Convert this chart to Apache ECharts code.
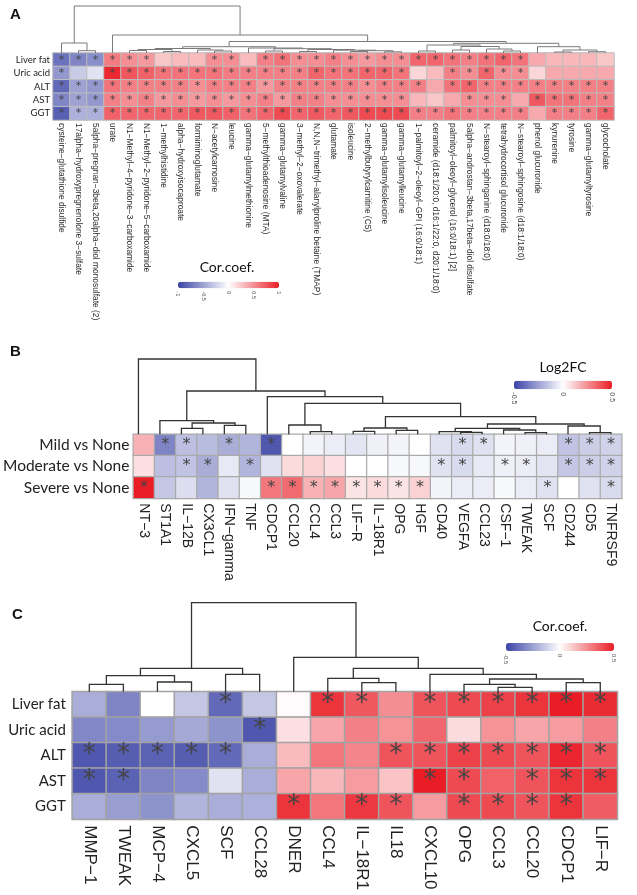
<!DOCTYPE html>
<html><head><meta charset="utf-8">
<script src="https://cdn.jsdelivr.net/npm/echarts/dist/echarts.min.js"></script>
<style>html,body{margin:0;padding:0;background:#fff}#c{width:637px;height:895px}</style>
</head><body><div id="c"></div>
<script>
// ---------- Panel A ----------
const rowsA = ['Liver fat','Uric acid','ALT','AST','GGT'];
const colsA = ['cysteine−glutathione disulfide','17alpha−hydroxypregnenolone 3−sulfate','5alpha−pregnan−3beta,20alpha−diol monosulfate (2)','urate','N1−Methyl−4−pyridone−3−carboxamide','N1−Methyl−2−pyridone−5−carboxamide','1−methylhistidine','alpha−hydroxyisocaproate','formiminoglutamate','N−acetylcarnosine','leucine','gamma−glutamylmethionine','5−methylthioadenosine (MTA)','gamma−glutamylvaline','3−methyl−2−oxovalerate','N,N,N−trimethyl−alanylproline betaine (TMAP)','glutamate','isoleucine','2−methylbutyrylcarnitine (C5)','gamma−glutamylisoleucine','gamma−glutamylleucine','1−palmitoyl−2−oleoyl−GPI (16:0/18:1)','ceramide (d18:1/20:0, d16:1/22:0, d20:1/18:0)','palmitoyl−oleoyl−glycerol (16:0/18:1) [2]','5alpha−androstan−3beta,17beta−diol disulfate','N−stearoyl−sphinganine (d18:0/18:0)','tetrahydrocortisol glucuronide','N−stearoyl−sphingosine (d18:1/18:0)','phenol glucuronide','kynurenine','tyrosine','gamma−glutamyltyrosine','glycocholate'];
const aLiverFat = [-0.75,-0.65,-0.6,0.58,0.5,0.45,0.25,0.3,0.3,0.5,0.5,0.3,0.56,0.62,0.5,0.5,0.56,0.5,0.45,0.5,0.5,0.68,0.68,0.62,0.56,0.62,0.68,0.62,0.38,0.32,0.32,0.32,0.25];
const aUricAcid = [-0.55,-0.28,-0.15,0.95,0.75,0.7,0.62,0.62,0.62,0.62,0.58,0.56,0.56,0.56,0.56,0.68,0.62,0.62,0.68,0.68,0.62,0.18,0.3,0.56,0.5,0.68,0.5,0.5,0.18,0.38,0.38,0.38,0.38];
const aALT = [-0.8,-0.5,-0.55,0.62,0.56,0.56,0.56,0.56,0.5,0.56,0.56,0.56,0.45,0.56,0.56,0.56,0.56,0.56,0.5,0.56,0.56,0.56,0.38,0.62,0.68,0.56,0.56,0.56,0.56,0.56,0.56,0.56,0.56];
const aAST = [-0.65,-0.5,-0.55,0.56,0.5,0.56,0.45,0.5,0.45,0.5,0.45,0.5,0.56,0.45,0.56,0.56,0.5,0.5,0.5,0.5,0.5,0.32,0.25,0.38,0.5,0.5,0.5,0.38,0.74,0.62,0.62,0.56,0.56];
const aGGT = [-0.85,-0.42,-0.42,0.7,0.68,0.68,0.68,0.68,0.74,0.74,0.7,0.62,0.68,0.8,0.68,0.74,0.68,0.74,0.8,0.8,0.8,0.56,0.56,0.62,0.56,0.56,0.56,0.56,0.38,0.56,0.56,0.56,0.68];
const starsA = ['111111000110111111111111111100000','100111111111111111111001111100000','111111111111111111111101111111111','111111111111111111111000111011111','111111111111111111111111111101111'];
// dendrogram: [mergeHeight, left, right], leaves = column index
const treeA = [47,
  [10, 0, [2.3, 1, 2]],
  [18, 3,
    [11.5,
      [6.3,
        [4.5, [3.5, [2.5, 4, 5], [1.5, 6, 7]], [3, 8, [2, 9, 10]]],
        [5, 11, [4.3, [2, 12, 13], [3.5, [1.5, 14, 15], [2.8, 16, [2.3, [1.5, 17, 18], [1.2, 19, 20]]]]]]
      ],
      [9.7,
        [8, [2, 21, 22], [6.5, [3, 23, 24], [4, 25, [2, 26, 27]]]],
        [6.3, 28, [3, [1, 29, 30], [1.3, 31, 32]]]
      ]
    ]
  ]
];
const ticksA = [-1, 1];

// ---------- Panel B ----------
const rowsB = ['Mild vs None','Moderate vs None','Severe vs None'];
const colsB = ['NT−3','ST1A1','IL−12B','CX3CL1','IFN−gamma','TNF','CDCP1','CCL20','CCL4','CCL3','LIF−R','IL−18R1','OPG','HGF','CD40','VEGFA','CCL23','CSF−1','TWEAK','SCF','CD244','CD5','TNFRSF9'];
const bMild = [0.17,-0.33,-0.17,-0.18,-0.22,-0.2,-0.45,0.0,-0.03,-0.05,-0.07,-0.04,-0.03,0.0,-0.08,-0.1,-0.08,-0.03,-0.04,-0.05,-0.16,-0.13,-0.12];
const bModerate = [0.07,-0.17,-0.16,-0.22,-0.06,-0.2,-0.08,0.08,0.1,0.07,0.0,0.0,-0.02,-0.02,-0.08,-0.1,-0.06,-0.04,-0.05,-0.07,-0.15,-0.13,-0.12];
const bSevere = [0.5,-0.15,-0.09,-0.2,-0.08,-0.02,0.3,0.33,0.17,0.2,0.06,0.08,0.06,0.1,-0.03,-0.05,-0.05,-0.02,-0.05,-0.08,0.0,-0.08,-0.1];
const starsB = ['01101010000000011000111','00110100000000110110111','10000011111111000001001'];
const treeB = [75.3, 0,
  [43.3,
    [13.6, 1, [11.3, [6, 2, 3], [9, 4, 5]]],
    [37.6, 6,
      [31,
        [9.3, 7, [2.6, 8, 9]],
        [17.6,
          [6.3, [3, 10, 11], [4, 12, 13]],
          [10.3,
            [6, [2.6, 14, [2, 15, 16]], [4.3, 17, [1.6, 18, 19]]],
            [8.3, 20, [1.6, 21, 22]]
          ]
        ]
      ]
    ]
  ]
];
const ticksB = [-0.5, 0.5];

// ---------- Panel C ----------
const rowsC = ['Liver fat','Uric acid','ALT','AST','GGT'];
const colsC = ['MMP−1','TWEAK','MCP−4','CXCL5','SCF','CCL28','DNER','CCL4','IL−18R1','IL18','CXCL10','OPG','CCL3','CCL20','CDCP1','LIF−R'];
const cLiverFat = [-0.22,-0.33,0.0,-0.15,-0.4,-0.15,0.01,0.45,0.37,0.25,0.38,0.4,0.42,0.45,0.5,0.47];
const cUricAcid = [-0.32,-0.31,-0.27,-0.23,-0.29,-0.45,0.07,0.2,0.28,0.24,0.34,0.08,0.24,0.2,0.22,0.28];
const cALT = [-0.45,-0.43,-0.42,-0.43,-0.4,-0.22,0.15,0.3,0.27,0.38,0.38,0.42,0.4,0.38,0.48,0.38];
const cAST = [-0.45,-0.42,-0.33,-0.31,-0.08,-0.22,0.2,0.16,0.22,0.13,0.5,0.4,0.35,0.38,0.45,0.45];
const cGGT = [-0.22,-0.26,-0.29,-0.2,-0.22,-0.21,0.45,0.3,0.44,0.38,0.22,0.4,0.4,0.38,0.45,0.36];
const starsC = ['0000100110111111','0000010000000000','1111100001111111','1100000000110111','0000001011011110'];
const treeC = [89,
  [23.4, [16, [7.4, 0, 1], [9.7, 2, 3]], [17.4, 4, 5]],
  [34.4, 6,
    [23.4,
      [13.4, 7, [9, 8, 9]],
      [17.4, 10, [12.7, [7.4, 11, [4.4, 12, 13]], [9, 14, 15]]]
    ]
  ]
];
const ticksC = [-0.5, 0.5];

// ---------- helpers ----------
const palette = ['#3b44a6', '#ffffff', '#ea1d27'];
function heatData(vals, stars) {
  const out = [];
  vals.forEach((row, r) => row.forEach((v, c) => out.push([c, r, v, stars[r][c] === '1' ? 1 : 0])));
  return out;
}
function dendro(tree) {
  const segs = [];
  function walk(n) {
    if (typeof n === 'number') return {x: n, h: 0};
    const l = walk(n[1]), r = walk(n[2]), h = n[0];
    segs.push({coords: [[l.x, l.h], [l.x, h], [r.x, h], [r.x, r.h]]});
    return {x: (l.x + r.x) / 2, h};
  }
  walk(tree);
  return segs;
}

const G = {
  A: {left: 53, top: 53, width: 561, height: 67, dTop: 5, dH: 48},
  B: {left: 127.7, top: 434.3, width: 494, height: 64, dTop: 355, dH: 79.3},
  C: {left: 72.3, top: 691.7, width: 545, height: 127.6, dTop: 600, dH: 91.7}
};
const LEG = {
  A: {left: 178, top: 281.7, len: 101, th: 6.6, fs: 5.5},
  B: {left: 514, top: 380.7, len: 98, th: 8.6, fs: 7},
  C: {left: 506, top: 643, len: 108, th: 8, fs: 6}
};

const grids = [], xAxes = [], yAxes = [], series = [], vms = [];
function panel(key, rows, cols, vals, stars, tree, ticks, opt) {
  const g = G[key], L = LEG[key];
  const gi = grids.length;
  grids.push({left: g.left, top: g.top, width: g.width, height: g.height});
  grids.push({left: g.left, top: g.dTop, width: g.width, height: g.dH});
  grids.push({left: L.left, top: L.top + L.th, width: L.len, height: 1});
  xAxes.push({type: 'category', gridIndex: gi, data: cols, position: 'bottom',
    axisLine: {show: false}, axisTick: {show: false}, splitLine: {show: false},
    axisLabel: {interval: 0, rotate: -90, fontSize: opt.colFs, fontFamily: opt.colFont, color: opt.colColor, margin: opt.colMargin}});
  yAxes.push({type: 'category', gridIndex: gi, data: rows, inverse: true,
    axisLine: {show: false}, axisTick: {show: false}, splitLine: {show: false},
    axisLabel: {fontSize: opt.rowFs, fontFamily: 'Lato', color: '#222', margin: opt.rowMargin}});
  xAxes.push({type: 'value', gridIndex: gi + 1, min: -0.5, max: cols.length - 0.5, show: false});
  yAxes.push({type: 'value', gridIndex: gi + 1, min: 0, max: g.dH, show: false});
  xAxes.push({type: 'value', gridIndex: gi + 2, min: ticks[0], max: ticks[1], interval: 0.5,
    axisLine: {show: false}, axisTick: {show: false}, splitLine: {show: false},
    axisLabel: {rotate: -90, fontSize: L.fs, margin: 2, color: '#555', fontFamily: 'Liberation Sans'}});
  yAxes.push({type: 'value', gridIndex: gi + 2, show: false});
  const si = series.length;
  series.push({type: 'heatmap', xAxisIndex: gi, yAxisIndex: gi, data: heatData(vals, stars),
    itemStyle: {borderColor: opt.border, borderWidth: opt.borderW},
    label: {show: true, formatter: p => p.data[3] ? '*' : '', fontFamily: 'DejaVu Sans', fontSize: opt.starFs, color: '#444'},
    emphasis: {disabled: true}, silent: true});
  series.push({type: 'lines', coordinateSystem: 'cartesian2d', xAxisIndex: gi + 1, yAxisIndex: gi + 1,
    polyline: true, data: dendro(tree), silent: true,
    lineStyle: {color: opt.dColor, width: opt.dW, opacity: 1}});
  series.push({type: 'scatter', xAxisIndex: gi + 2, yAxisIndex: gi + 2, data: [], silent: true});
  vms.push({type: 'continuous', seriesIndex: si, dimension: 2, min: ticks[0], max: ticks[1],
    orient: 'horizontal', left: L.left, top: L.top, itemWidth: L.th, itemHeight: L.len,
    calculable: false, padding: 0, hoverLink: false, inRange: {color: palette}});
}

panel('A', rowsA, colsA, [aLiverFat, aUricAcid, aALT, aAST, aGGT], starsA, treeA, ticksA,
  {colFs: 8.4, colFont: 'Liberation Sans', colColor: '#2a2a2a', colMargin: 3, rowFs: 9.5, rowMargin: 3,
   border: '#bdbdbd', borderW: 1, starFs: 11, dColor: '#7a7a7a', dW: 1});
panel('B', rowsB, colsB, [bMild, bModerate, bSevere], starsB, treeB, ticksB,
  {colFs: 14, colFont: 'Liberation Sans', colColor: '#222', colMargin: 5, rowFs: 15.5, rowMargin: 4,
   border: '#aaaaaa', borderW: 1.2, starFs: 16, dColor: '#333', dW: 1.3});
panel('C', rowsC, colsC, [cLiverFat, cUricAcid, cALT, cAST, cGGT], starsC, treeC, ticksC,
  {colFs: 17, colFont: 'Liberation Sans', colColor: '#222', colMargin: 6, rowFs: 15, rowMargin: 6.5,
   border: '#a3a3a3', borderW: 1.5, starFs: 26, dColor: '#333', dW: 1.3});

const txt = (t, x, y, font, align) => ({type: 'text', x, y, silent: true,
  style: {text: t, font, fill: '#111', align: align || 'left', verticalAlign: 'middle'}});

const chart = echarts.init(document.getElementById('c'), null, {renderer: 'canvas'});
chart.setOption({
  animation: false,
  backgroundColor: '#fff',
  grid: grids, xAxis: xAxes, yAxis: yAxes, series, visualMap: vms,
  graphic: [
    txt('A', 10, 15, 'bold 15px Liberation Sans'),
    txt('B', 10, 352, 'bold 15px Liberation Sans'),
    txt('C', 12, 615, 'bold 15px Liberation Sans'),
    txt('Cor.coef.', 227, 267, '14px Lato', 'center'),
    txt('Log2FC', 563, 367, '14px Lato', 'center'),
    txt('Cor.coef.', 560, 626, '14px Lato', 'center')
  ]
});
</script>
</body></html>
